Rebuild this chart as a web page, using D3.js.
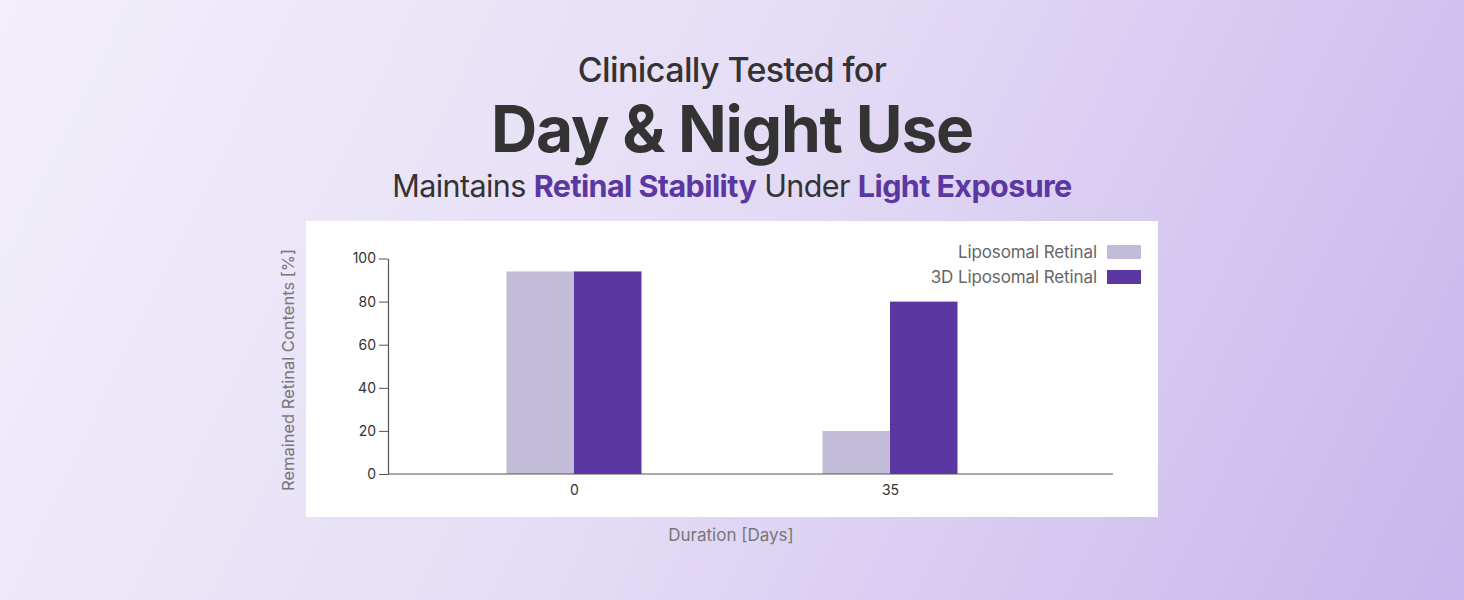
<!DOCTYPE html>
<html><head><meta charset="utf-8">
<script src="https://cdn.jsdelivr.net/npm/d3@7"></script>
<style>html,body{margin:0;padding:0;overflow:hidden;}svg{display:block;font-family:Inter,"Noto Sans",sans-serif;}</style>
</head><body>
<script>
const categories = ["0", "35"];
const seriesNames = ["Liposomal Retinal", "3D Liposomal Retinal"];
const liposomal = [94, 20];
const liposomal3D = [94, 80];
const yTicks = [0, 20, 40, 60, 80, 100];
const colors = ["#c2bcd8", "#5b37a1"];

const W = 1464, H = 600;
const svg = d3.select("body").append("svg").attr("width", W).attr("height", H);
const defs = svg.append("defs");
const g = defs.append("linearGradient").attr("id","bg").attr("gradientUnits","userSpaceOnUse")
  .attr("x1",0).attr("y1",0).attr("x2",1464).attr("y2",700);
g.append("stop").attr("offset","0%").attr("stop-color","#f2effa");
g.append("stop").attr("offset","45%").attr("stop-color","#e5ddf6");
g.append("stop").attr("offset","100%").attr("stop-color","#c6b4eb");
svg.append("rect").attr("width",W).attr("height",H).attr("fill","url(#bg)");

// Titles
svg.append("text").attr("x",732).attr("y",82).attr("text-anchor","middle")
  .attr("font-size",34).attr("font-weight",500).attr("fill","#333").attr("letter-spacing","-0.6")
  .text("Clinically Tested for");
svg.append("text").attr("x",732).attr("y",152).attr("text-anchor","middle")
  .attr("font-size",64).attr("font-weight",700).attr("fill","#333").attr("letter-spacing","-1.2")
  .text("Day & Night Use");
const sub = svg.append("text").attr("x",732).attr("y",197).attr("text-anchor","middle")
  .attr("font-size",30.5).attr("fill","#333").attr("letter-spacing","-0.6");
sub.append("tspan").attr("font-weight",400).text("Maintains ");
sub.append("tspan").attr("font-weight",700).attr("fill","#5b37a1").text("Retinal Stability");
sub.append("tspan").attr("font-weight",400).text(" Under ");
sub.append("tspan").attr("font-weight",700).attr("fill","#5b37a1").text("Light Exposure");

// Panel
svg.append("rect").attr("x",306).attr("y",221).attr("width",852).attr("height",296).attr("fill","#fff");

const x0 = 388, x1 = 1113, yTop = 258.5, yBot = 474;
const y = d3.scaleLinear().domain([0,100]).range([yBot, yTop]);
const xc = d3.scalePoint().domain(categories).range([574, 890]);
const bw = 67.5;
const xs = d3.scaleBand().domain(seriesNames).range([-bw, bw]).padding(0);

const plot = svg.append("g");
const data = categories.map((c,i)=>({cat:c, vals:[liposomal[i], liposomal3D[i]]}));
plot.selectAll("g.grp").data(data).join("g").attr("class","grp")
  .attr("transform", d=>`translate(${xc(d.cat)},0)`)
  .selectAll("rect").data(d=>d.vals.map((v,j)=>({v, s:seriesNames[j], j})))
  .join("rect")
  .attr("x", d=>xs(d.s)).attr("width", xs.bandwidth())
  .attr("y", d=>y(d.v)).attr("height", d=>yBot - y(d.v))
  .attr("fill", d=>colors[d.j]);

// Y axis
const ya = svg.append("g").attr("transform",`translate(${x0},0)`)
  .call(d3.axisLeft(y).tickValues(yTicks).tickSize(9).tickPadding(3).tickSizeOuter(0));
ya.select(".domain").attr("stroke","#555").attr("stroke-width",1.2);
ya.selectAll(".tick line").attr("stroke","#555");
ya.selectAll(".tick text").attr("font-size",14).attr("fill","#333").attr("font-family","Inter,sans-serif");

// X axis
svg.append("line").attr("x1",x0).attr("x2",x1).attr("y1",yBot).attr("y2",yBot).attr("stroke","#555").attr("stroke-width",1.2);
const xa = svg.append("g").attr("transform",`translate(0,${yBot})`)
  .call(d3.axisBottom(xc).tickSize(0).tickPadding(11));
xa.select(".domain").remove();
xa.selectAll(".tick text").attr("font-size",14).attr("fill","#333").attr("font-family","Inter,sans-serif");

// Axis titles
svg.append("text").attr("transform","translate(294,370) rotate(-90)").attr("text-anchor","middle")
  .attr("font-size",16.5).attr("fill","#777").text("Remained Retinal Contents [%]");
svg.append("text").attr("x",731).attr("y",541).attr("text-anchor","middle")
  .attr("font-size",17).attr("fill","#777").text("Duration [Days]");

// Legend
const leg = svg.append("g");
seriesNames.forEach((s,i)=>{
  const yy = 252 + i*25;
  leg.append("rect").attr("x",1107).attr("y",yy-7).attr("width",34).attr("height",14).attr("fill",colors[i]);
  leg.append("text").attr("x",1097).attr("y",yy+6).attr("text-anchor","end")
    .attr("font-size",17).attr("fill","#666").attr("letter-spacing","-0.1").text(s);
});
</script>
</body></html>
